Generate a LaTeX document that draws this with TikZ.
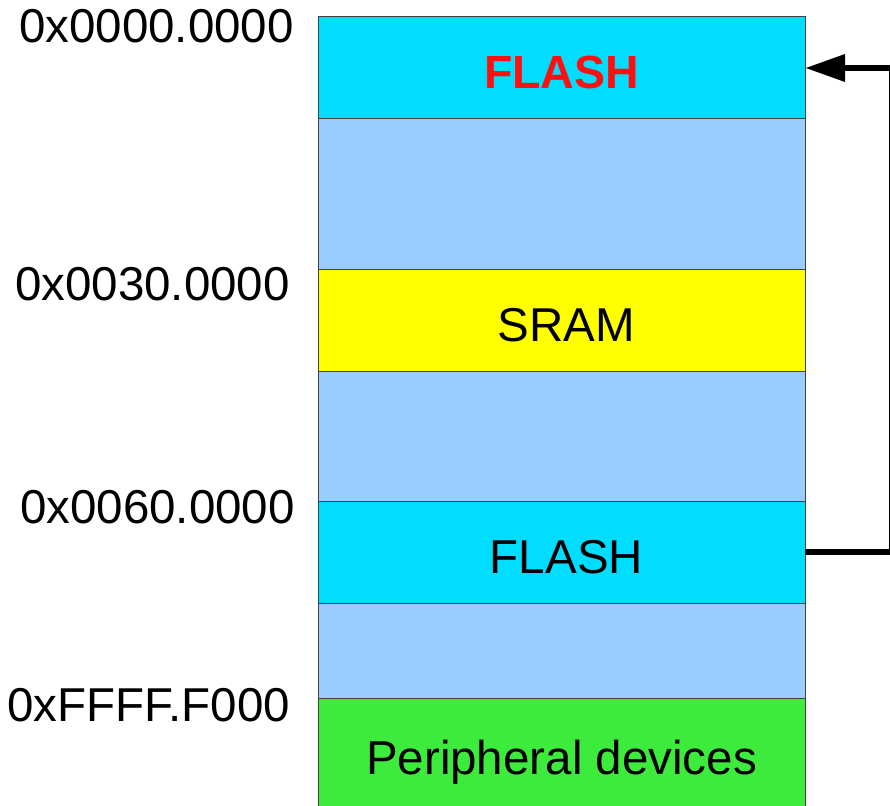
\documentclass[tikz,border=0pt]{standalone}
\usepackage{fontspec}
\setmainfont{Liberation Sans}
\definecolor{flashcyan}{RGB}{0, 221, 255}
\definecolor{freeblue}{RGB}{153, 204, 255}
\definecolor{sramyellow}{RGB}{255, 255, 0}
\definecolor{periphgreen}{RGB}{61, 235, 61}
\definecolor{flashred}{RGB}{255, 16, 16}
\usetikzlibrary{arrows.meta, positioning}

\tikzset{
  region/.style={draw=black!75, line width=1pt, minimum width=487pt, inner sep=0pt, outer sep=0pt, anchor=north west, text height=42pt, text depth=0pt, font=\fontsize{47.5}{52}\selectfont},
  addr/.style={anchor=base east, inner sep=0pt, font=\fontsize{47.5}{52}\selectfont},
  remap/.style={line width=6.5pt, -{Triangle[length=40pt, width=26pt]}}
}

\begin{document}
\begin{tikzpicture}[x=1pt, y=-1pt]
  \useasboundingbox (0,0) rectangle (890,805);

  % Memory regions, top to bottom
  \node[region, fill=flashcyan, minimum height=102pt, text=flashred, font=\fontsize{46.5}{52}\selectfont\bfseries] (flash1) at (318,17) {FLASH};
  \node[region, fill=freeblue, minimum height=150pt, below=0pt of flash1] (free1) {};
  \node[region, fill=sramyellow, minimum height=102pt, below=0pt of free1] (sram) {\hspace*{10pt}SRAM};
  \node[region, fill=freeblue, minimum height=130pt, below=0pt of sram] (free2) {};
  \node[region, fill=flashcyan, minimum height=102pt, below=0pt of free2] (flash2) {\hspace*{10pt}FLASH};
  \node[region, fill=freeblue, minimum height=95pt, below=0pt of flash2] (free3) {};
  \node[region, fill=periphgreen, minimum height=110pt, below=0pt of free3] (periph) {Peripheral devices};

  % Start addresses
  \node[addr] (a0) at (294,43) {0x0000.0000};
  \node[addr] (a1) at (290,300) {0x0030.0000};
  \node[addr] (a2) at (295,523) {0x0060.0000};
  \node[addr] (a3) at (290,721) {0xFFFF.F000};

  % Remapping of the flash
  \draw[remap] (flash2.east) -- ++(87,0) |- (flash1.east);
\end{tikzpicture}
\end{document}
